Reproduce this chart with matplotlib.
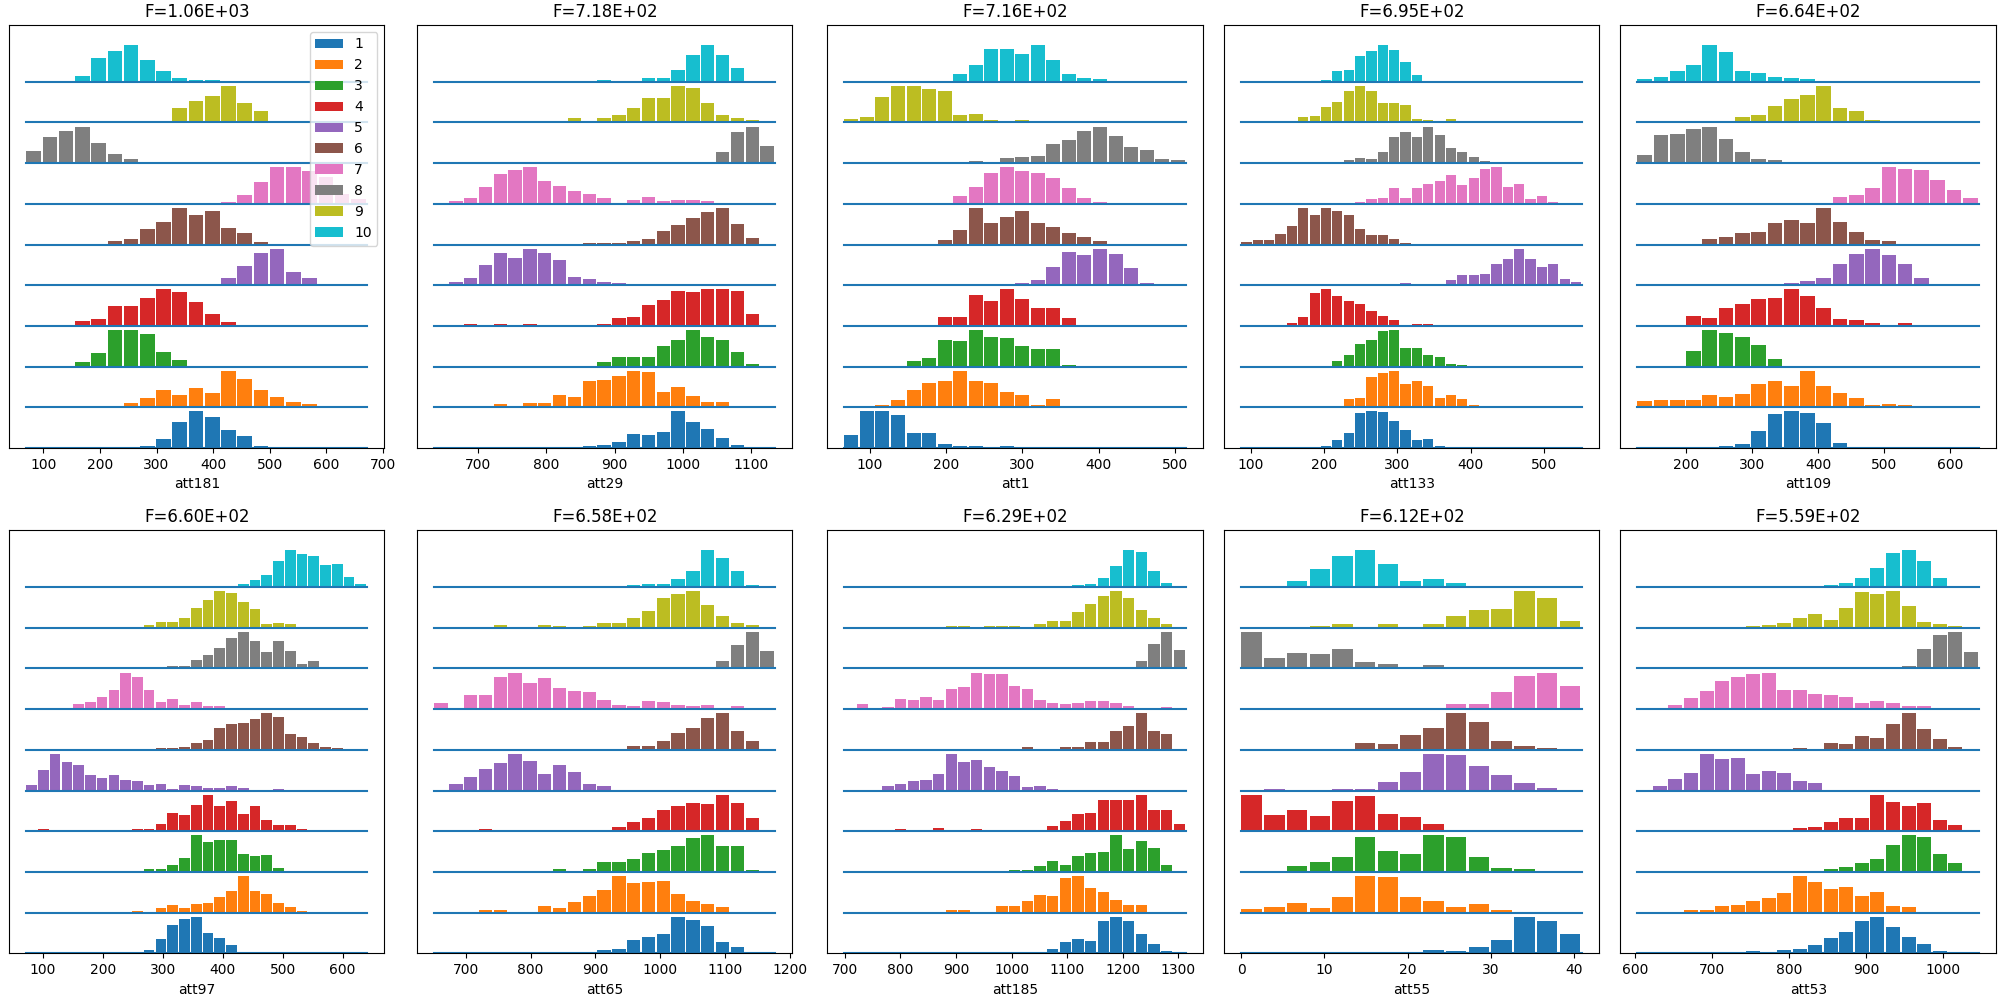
import numpy as np
import matplotlib

matplotlib.use("Agg")
import matplotlib.pyplot as plt

classes = [str(i) for i in range(1, 11)]
features = ["att181", "att29", "att1", "att133", "att109",
            "att97", "att65", "att185", "att55", "att53"]
f_scores = [1.06e3, 7.18e2, 7.16e2, 6.95e2, 6.64e2,
            6.60e2, 6.58e2, 6.29e2, 6.12e2, 5.59e2]
# value range covered by the histogram bins of each feature
bin_ranges = [(69.9, 672.4), (635.4, 1135.9), (66.8, 514.7), (87.3, 552.3), (127.0, 643.6),
              (72.3, 641.3), (651.6, 1177.6), (699.4, 1313.9), (0.0, 41.0), (603.0, 1046.5)]

# bar heights per class (class 1 first), relative units
att181 = [
    [0, 0, 0, 0, 0, 2, 0, 5, 26, 77, 110, 92, 53, 35, 5, 0, 0, 0, 0, 0, 0],
    [0, 0, 0, 3, 3, 3, 13, 28, 52, 37, 58, 43, 112, 88, 52, 31, 16, 10, 0, 0, 0],
    [0, 0, 3, 13, 43, 112, 112, 100, 46, 19, 3, 3, 0, 0, 0, 0, 0, 0, 0, 0, 0],
    [0, 0, 0, 15, 21, 60, 60, 84, 111, 102, 72, 36, 12, 3, 0, 0, 3, 0, 0, 0, 0],
    [0, 0, 0, 0, 0, 0, 0, 0, 3, 0, 3, 0, 21, 57, 99, 111, 39, 21, 3, 0, 3],
    [0, 0, 0, 0, 0, 10, 16, 46, 70, 112, 91, 103, 52, 34, 7, 0, 0, 0, 0, 0, 0],
    [0, 0, 0, 0, 0, 0, 0, 0, 0, 3, 3, 0, 6, 27, 66, 111, 111, 99, 81, 30, 15],
    [37, 79, 97, 112, 61, 28, 13, 4, 0, 0, 0, 0, 0, 0, 0, 0, 0, 0, 0, 0, 0],
    [0, 0, 0, 0, 0, 0, 0, 3, 3, 43, 67, 82, 112, 58, 34, 0, 0, 0, 0, 0, 0],
    [0, 0, 3, 19, 73, 94, 112, 67, 34, 13, 6, 6, 0, 0, 0, 0, 0, 0, 0, 0, 0],
]
att29 = [
    [0, 0, 0, 0, 0, 2, 0, 0, 0, 0, 5, 8, 17, 41, 38, 47, 110, 77, 56, 29, 8, 0, 0],
    [0, 0, 0, 0, 10, 4, 13, 13, 37, 31, 79, 82, 97, 112, 109, 46, 61, 34, 16, 16, 0, 0, 0],
    [0, 0, 0, 0, 0, 0, 0, 0, 0, 3, 3, 13, 28, 28, 28, 64, 82, 112, 91, 82, 46, 7, 0],
    [0, 0, 6, 0, 6, 0, 6, 0, 0, 0, 0, 6, 24, 27, 63, 78, 105, 102, 111, 111, 105, 36, 0],
    [0, 9, 21, 60, 99, 84, 111, 99, 75, 24, 18, 9, 6, 3, 0, 0, 0, 0, 0, 0, 0, 0, 0],
    [0, 0, 0, 0, 0, 0, 3, 3, 0, 0, 6, 6, 6, 10, 16, 40, 61, 82, 100, 112, 64, 19, 0],
    [3, 9, 18, 51, 90, 102, 111, 69, 54, 39, 30, 18, 3, 12, 21, 9, 12, 12, 9, 3, 3, 0, 0],
    [0, 0, 0, 0, 0, 0, 0, 0, 0, 0, 0, 0, 0, 3, 0, 3, 0, 3, 3, 34, 94, 112, 52],
    [0, 0, 0, 3, 0, 3, 3, 0, 0, 13, 3, 13, 22, 43, 76, 76, 112, 106, 58, 22, 13, 6, 0],
    [0, 0, 0, 0, 0, 0, 0, 0, 3, 0, 0, 6, 0, 3, 12, 12, 36, 82, 112, 82, 43, 3, 0],
]
att1 = [
    [38, 110, 110, 98, 44, 44, 11, 5, 5, 2, 5, 0, 0, 0, 0, 0, 0, 0, 0, 0, 0, 0],
    [0, 0, 7, 22, 52, 73, 79, 112, 79, 73, 46, 37, 7, 25, 0, 0, 0, 0, 0, 0, 0, 0],
    [0, 0, 3, 0, 16, 25, 82, 79, 112, 91, 88, 64, 55, 55, 6, 3, 0, 0, 0, 0, 0, 0],
    [0, 0, 0, 0, 0, 3, 27, 27, 93, 75, 111, 81, 54, 54, 24, 3, 3, 0, 0, 0, 0, 0],
    [0, 0, 0, 0, 0, 0, 0, 0, 0, 0, 0, 6, 15, 54, 102, 93, 111, 96, 51, 6, 0, 0],
    [0, 0, 0, 0, 3, 3, 13, 43, 112, 67, 85, 103, 67, 55, 34, 22, 10, 0, 0, 0, 0, 0],
    [0, 0, 0, 0, 0, 3, 3, 24, 51, 93, 111, 99, 93, 78, 48, 18, 6, 0, 0, 0, 0, 0],
    [0, 0, 0, 0, 0, 0, 0, 3, 6, 3, 16, 19, 22, 58, 70, 97, 112, 82, 49, 40, 13, 10],
    [10, 16, 79, 112, 112, 103, 97, 22, 25, 6, 3, 6, 0, 0, 3, 0, 0, 0, 0, 0, 0, 0],
    [0, 0, 0, 0, 0, 0, 3, 25, 52, 100, 100, 85, 112, 67, 25, 13, 7, 0, 0, 0, 0, 0],
]
att133 = [
    [0, 0, 0, 0, 0, 0, 0, 5, 23, 44, 104, 110, 107, 80, 53, 23, 26, 5, 0, 0, 0, 0, 0, 0, 0, 0, 0, 0, 0, 0],
    [0, 0, 0, 0, 0, 0, 0, 3, 3, 25, 28, 94, 106, 112, 70, 79, 64, 28, 37, 25, 7, 4, 0, 0, 0, 0, 0, 0, 0, 0],
    [0, 0, 0, 0, 0, 0, 0, 0, 16, 34, 70, 82, 109, 112, 58, 58, 34, 28, 7, 4, 0, 0, 0, 0, 0, 0, 0, 0, 0, 0],
    [0, 0, 3, 3, 9, 27, 99, 111, 90, 75, 66, 45, 30, 18, 3, 5, 5, 0, 3, 0, 3, 0, 0, 3, 0, 0, 0, 0, 0, 0],
    [0, 0, 0, 0, 0, 0, 0, 0, 0, 0, 0, 0, 0, 0, 6, 3, 0, 3, 15, 30, 30, 33, 63, 81, 111, 81, 54, 63, 18, 9],
    [7, 13, 13, 31, 58, 112, 91, 112, 103, 91, 49, 28, 28, 16, 6, 3, 3, 3, 0, 0, 0, 0, 0, 0, 0, 0, 0, 0, 0, 0],
    [0, 0, 0, 0, 0, 0, 0, 0, 0, 0, 6, 15, 18, 48, 18, 48, 60, 69, 87, 57, 78, 105, 111, 51, 60, 15, 24, 6, 0, 0],
    [0, 0, 0, 0, 0, 0, 0, 0, 0, 10, 16, 13, 34, 79, 94, 79, 112, 85, 46, 34, 19, 7, 0, 0, 0, 0, 0, 0, 0, 0],
    [0, 0, 0, 0, 0, 16, 19, 46, 64, 97, 112, 97, 58, 58, 52, 10, 6, 0, 10, 0, 3, 0, 0, 0, 0, 0, 0, 0, 0, 0],
    [0, 0, 0, 0, 0, 0, 3, 6, 34, 37, 79, 94, 112, 97, 61, 22, 0, 0, 0, 3, 0, 0, 0, 0, 0, 0, 0, 0, 0, 0],
]
att109 = [
    [0, 0, 0, 0, 3, 6, 11, 50, 101, 110, 104, 74, 14, 0, 0, 0, 0, 0, 0, 0, 0],
    [19, 22, 22, 22, 37, 31, 40, 70, 79, 64, 112, 64, 43, 28, 7, 10, 6, 0, 0, 0, 0],
    [0, 0, 3, 49, 112, 103, 91, 67, 22, 3, 3, 0, 0, 0, 0, 0, 0, 0, 0, 0, 0],
    [0, 0, 3, 30, 24, 54, 66, 81, 84, 111, 90, 54, 21, 18, 9, 0, 9, 0, 0, 0, 0],
    [0, 3, 0, 0, 0, 0, 0, 0, 3, 6, 12, 21, 63, 96, 111, 93, 63, 21, 3, 0, 0],
    [0, 0, 3, 3, 16, 22, 34, 37, 67, 76, 67, 112, 70, 37, 13, 10, 0, 0, 0, 0, 0],
    [0, 0, 0, 0, 3, 0, 0, 0, 0, 0, 3, 3, 21, 27, 48, 111, 105, 102, 72, 42, 18],
    [25, 85, 88, 103, 112, 73, 34, 13, 10, 0, 0, 0, 0, 0, 0, 0, 0, 0, 0, 0, 0],
    [0, 0, 0, 0, 0, 0, 16, 22, 49, 73, 85, 112, 43, 34, 7, 0, 0, 0, 0, 0, 0],
    [7, 16, 34, 52, 112, 91, 34, 28, 16, 10, 7, 0, 0, 0, 0, 0, 0, 0, 0, 0, 0],
]
att97 = [
    [0, 0, 0, 0, 0, 0, 0, 0, 3, 3, 9, 42, 87, 105, 111, 63, 45, 24, 3, 3, 0, 0, 0, 0, 0, 0, 0, 0, 0],
    [0, 0, 0, 0, 0, 0, 0, 0, 3, 6, 3, 13, 22, 13, 25, 28, 49, 67, 112, 67, 58, 28, 16, 6, 3, 3, 0, 0, 0],
    [0, 0, 0, 0, 0, 0, 0, 0, 0, 0, 10, 10, 22, 43, 112, 91, 97, 97, 55, 49, 52, 13, 0, 0, 0, 0, 0, 0, 0],
    [0, 6, 0, 0, 0, 0, 0, 0, 0, 6, 6, 22, 55, 49, 79, 112, 76, 91, 52, 76, 34, 19, 19, 6, 0, 0, 0, 0, 0],
    [16, 64, 112, 88, 79, 46, 37, 46, 31, 28, 16, 19, 4, 16, 13, 7, 7, 13, 7, 0, 0, 4, 0, 0, 0, 0, 0, 0, 0],
    [0, 0, 0, 0, 0, 0, 0, 4, 0, 0, 0, 7, 7, 10, 22, 31, 67, 79, 82, 94, 112, 100, 49, 40, 22, 10, 7, 0, 0],
    [0, 0, 0, 4, 16, 22, 37, 58, 112, 97, 58, 22, 31, 13, 22, 10, 10, 4, 0, 0, 0, 0, 0, 0, 0, 0, 0, 0, 0],
    [0, 0, 0, 0, 0, 0, 0, 0, 0, 0, 0, 0, 6, 9, 25, 40, 64, 94, 112, 85, 49, 85, 52, 13, 22, 3, 3, 0, 0],
    [0, 0, 0, 0, 0, 0, 0, 0, 0, 0, 7, 19, 19, 31, 61, 85, 112, 106, 79, 58, 10, 16, 10, 0, 0, 0, 0, 0, 0],
    [0, 0, 0, 0, 0, 0, 0, 0, 0, 0, 0, 0, 0, 0, 0, 0, 3, 3, 10, 22, 37, 79, 112, 100, 94, 67, 70, 31, 10],
]
att65 = [
    [0, 0, 0, 0, 0, 0, 3, 0, 0, 0, 0, 9, 12, 39, 48, 57, 111, 102, 84, 33, 18, 3, 0],
    [0, 0, 0, 7, 7, 3, 0, 19, 13, 31, 52, 70, 112, 91, 94, 97, 58, 34, 25, 16, 3, 0, 0],
    [0, 0, 0, 0, 0, 0, 0, 4, 10, 4, 10, 31, 31, 40, 58, 67, 79, 103, 112, 79, 79, 7, 0],
    [0, 0, 0, 6, 0, 0, 3, 0, 0, 3, 0, 0, 13, 28, 40, 64, 76, 85, 82, 112, 85, 40, 3],
    [3, 19, 40, 67, 85, 112, 91, 52, 79, 58, 19, 13, 3, 3, 0, 0, 0, 0, 0, 0, 0, 0, 0],
    [0, 0, 0, 0, 0, 0, 3, 3, 0, 0, 3, 3, 3, 13, 13, 28, 52, 67, 97, 112, 58, 28, 0],
    [19, 0, 43, 43, 97, 112, 79, 94, 64, 55, 52, 28, 13, 10, 25, 22, 13, 10, 13, 0, 10, 0, 0],
    [0, 0, 0, 0, 0, 0, 0, 0, 0, 0, 0, 0, 0, 0, 3, 0, 3, 3, 3, 22, 73, 112, 52],
    [0, 0, 0, 0, 7, 0, 0, 7, 4, 0, 4, 16, 16, 31, 52, 91, 103, 112, 70, 37, 16, 7, 0],
    [0, 0, 0, 0, 0, 0, 0, 0, 3, 0, 0, 3, 3, 6, 9, 9, 25, 49, 112, 88, 49, 6, 0],
]
att185 = [
    [0, 0, 0, 0, 0, 0, 0, 0, 0, 3, 0, 0, 0, 0, 3, 0, 12, 33, 42, 36, 99, 111, 99, 57, 27, 6, 0],
    [0, 0, 0, 0, 0, 0, 3, 0, 7, 7, 0, 3, 19, 19, 37, 55, 52, 106, 112, 76, 64, 40, 22, 22, 0, 0, 0],
    [0, 0, 0, 0, 0, 0, 0, 0, 0, 0, 0, 4, 4, 7, 7, 19, 34, 22, 49, 58, 61, 112, 70, 94, 73, 22, 4],
    [0, 0, 0, 0, 6, 0, 0, 9, 0, 0, 6, 0, 0, 0, 0, 0, 16, 31, 52, 55, 97, 97, 97, 112, 64, 64, 22],
    [3, 0, 0, 13, 19, 28, 31, 52, 112, 88, 94, 73, 61, 43, 10, 13, 6, 3, 0, 0, 0, 0, 0, 0, 0, 0, 0],
    [0, 0, 0, 0, 0, 0, 0, 0, 0, 0, 0, 0, 0, 0, 10, 0, 0, 10, 10, 25, 25, 58, 73, 112, 58, 49, 4],
    [0, 16, 0, 7, 31, 28, 37, 28, 61, 67, 112, 109, 109, 70, 61, 28, 19, 16, 19, 25, 25, 19, 10, 0, 0, 7, 0],
    [0, 0, 0, 0, 0, 0, 0, 0, 0, 0, 0, 0, 0, 0, 0, 4, 0, 0, 4, 0, 0, 4, 4, 22, 76, 112, 55],
    [0, 0, 0, 0, 0, 0, 0, 0, 4, 4, 0, 4, 4, 4, 0, 13, 22, 22, 49, 73, 97, 112, 91, 55, 31, 10, 0],
    [0, 0, 0, 0, 0, 0, 0, 0, 0, 0, 0, 0, 4, 4, 0, 4, 4, 4, 7, 10, 28, 64, 112, 106, 49, 13, 0],
]
att55 = [
    [0, 0, 0, 0, 0, 3, 0, 0, 9, 6, 18, 39, 111, 99, 60],
    [10, 16, 28, 13, 49, 112, 109, 49, 34, 16, 25, 7, 3, 3, 3],
    [0, 4, 19, 31, 46, 106, 64, 55, 112, 106, 46, 13, 10, 0, 0],
    [112, 49, 64, 46, 91, 109, 52, 43, 22, 4, 0, 0, 0, 0, 0],
    [0, 4, 0, 0, 4, 4, 25, 58, 112, 109, 76, 49, 22, 7, 0],
    [0, 0, 0, 4, 0, 22, 19, 46, 67, 112, 85, 28, 13, 7, 0],
    [0, 0, 0, 0, 4, 4, 4, 4, 4, 16, 16, 52, 100, 112, 70],
    [112, 31, 46, 43, 58, 19, 13, 4, 10, 4, 0, 0, 0, 0, 0],
    [0, 0, 0, 4, 10, 0, 13, 0, 13, 37, 55, 58, 112, 91, 22],
    [0, 0, 19, 55, 94, 112, 70, 19, 25, 13, 4, 0, 0, 0, 0],
]
att53 = [
    [0, 0, 0, 0, 0, 0, 0, 6, 3, 9, 12, 24, 45, 66, 99, 111, 81, 48, 27, 6, 0, 0],
    [0, 0, 3, 7, 7, 19, 22, 34, 46, 61, 112, 94, 73, 79, 52, 64, 19, 16, 0, 0, 3, 0],
    [0, 0, 0, 0, 0, 4, 0, 4, 4, 0, 0, 0, 10, 16, 28, 40, 82, 112, 106, 55, 28, 4],
    [0, 4, 0, 0, 4, 4, 4, 0, 0, 0, 10, 13, 28, 40, 40, 112, 88, 76, 85, 34, 19, 0],
    [3, 13, 34, 55, 112, 97, 100, 52, 61, 55, 28, 22, 0, 0, 0, 0, 0, 0, 0, 0, 0, 0],
    [0, 0, 0, 0, 0, 0, 0, 0, 4, 0, 7, 0, 22, 19, 43, 37, 79, 112, 64, 34, 10, 0],
    [0, 0, 13, 34, 55, 85, 97, 109, 112, 58, 58, 46, 43, 37, 19, 25, 19, 10, 10, 0, 0, 0],
    [0, 0, 0, 0, 0, 0, 0, 4, 0, 4, 0, 0, 4, 0, 0, 4, 4, 7, 58, 103, 112, 49],
    [0, 0, 0, 0, 0, 0, 0, 4, 7, 16, 31, 43, 25, 61, 109, 103, 112, 67, 19, 13, 4, 0],
    [0, 0, 0, 0, 0, 4, 0, 0, 0, 0, 0, 4, 7, 13, 28, 58, 103, 112, 79, 28, 0, 0],
]

hist_data = [att181, att29, att1, att133, att109, att97, att65, att185, att55, att53]

# axes placement in pixels (figure is 2000 x 1000)
col_left = [9.3, 417.3, 827.3, 1224.3, 1620.3]
col_width = [375, 375, 376, 375, 376]
row_top = [25, 530.3]
ax_height = 423

fig = plt.figure(figsize=(20, 10), dpi=100)

for idx, feat in enumerate(features):
    r, c = divmod(idx, 5)
    ax = fig.add_axes([col_left[c] / 2000, 1 - (row_top[r] + ax_height) / 1000,
                       col_width[c] / 2000, ax_height / 1000])
    lo, hi = bin_ranges[idx]
    rows = hist_data[idx]
    edges = np.linspace(lo, hi, len(rows[0]) + 1)
    bw = edges[1] - edges[0]

    # one stacked row per class, each scaled to its own maximum
    for k, h in enumerate(rows):
        h = np.array(h, dtype=float)
        h = 0.9 * h / h.max()
        ax.bar(edges[:-1], h, width=0.9 * bw, bottom=k, align="edge",
               color=f"C{k}", label=classes[k])
        ax.plot([lo, hi], [k, k], color="C0", lw=1.5)

    ax.set_yticks([])
    ax.set_title(f"F={f_scores[idx]:.2E}")
    ax.set_xlabel(feat)
    if idx == 0:
        ax.legend(loc="upper right")

plt.savefig("out.png", dpi=100)
